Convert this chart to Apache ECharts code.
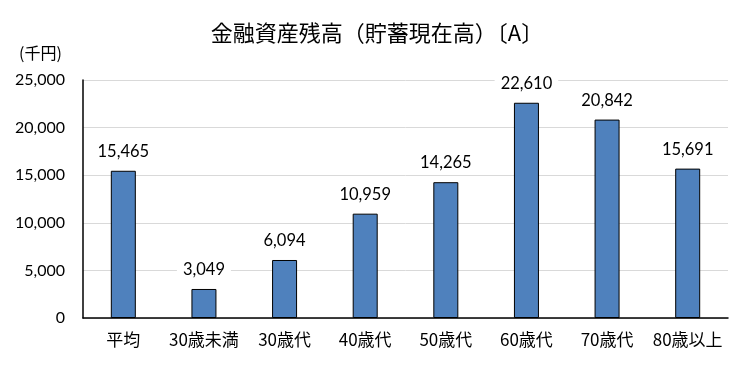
<!DOCTYPE html>
<html><head><meta charset="utf-8">
<script src="https://cdn.jsdelivr.net/npm/echarts@6/dist/echarts.min.js"></script>
<style>html,body{margin:0;padding:0;background:#fff}#c{width:751px;height:368px}</style>
</head><body><div id="c"></div>
<script>
const categories = ['平均','30歳未満','30歳代','40歳代','50歳代','60歳代','70歳代','80歳以上'];
const values = [15465, 3049, 6094, 10959, 14265, 22610, 20842, 15691];
const yTicks = {min: 0, max: 25000, interval: 5000};
const titleText = '金融資産残高（貯蓄現在高）〔A〕';
const unitText = '(千円)';

const chart = echarts.init(document.getElementById('c'), null, {renderer: 'canvas'});
const numFont = 'Lato, "Noto Sans CJK JP", sans-serif';
const jpFont = '"Noto Sans CJK JP", sans-serif';
chart.setOption({
  animation: false,
  backgroundColor: '#fff',
  title: [{
    text: titleText, left: 372, top: 17, textAlign: 'center',
    textStyle: {fontFamily: jpFont, fontSize: 22, fontWeight: 'normal', color: '#000'}
  }, {
    text: unitText, left: 14, top: 40,
    textStyle: {fontFamily: jpFont, fontSize: 16, fontWeight: 'normal', color: '#000'}
  }],
  grid: {left: 83, right: 23, top: 80, bottom: 50, containLabel: false},
  xAxis: {
    type: 'category', data: categories,
    axisLine: {lineStyle: {color: '#000', width: 1.5}},
    axisTick: {show: false},
    axisLabel: {fontFamily: jpFont, fontSize: 17, color: '#000', margin: 13, interval: 0, hideOverlap: false}
  },
  yAxis: {
    type: 'value', min: yTicks.min, max: yTicks.max, interval: yTicks.interval,
    axisLine: {show: true, lineStyle: {color: '#000', width: 1.5}},
    axisTick: {show: false},
    splitLine: {lineStyle: {color: '#d9d9d9', width: 1}},
    axisLabel: {fontFamily: numFont, fontSize: 16, color: '#000', margin: 18,
      formatter: v => v.toLocaleString('en-US')}
  },
  series: [{
    type: 'bar', data: values, barWidth: 25,
    itemStyle: {color: '#4f81bd', borderColor: '#000', borderWidth: 1},
    label: {show: true, position: 'top', distance: 9,
      fontFamily: numFont, fontSize: 16.5, color: '#000',
      backgroundColor: '#fff', padding: [2, 6],
      formatter: p => p.value.toLocaleString('en-US')}
  }]
});
</script></body></html>
